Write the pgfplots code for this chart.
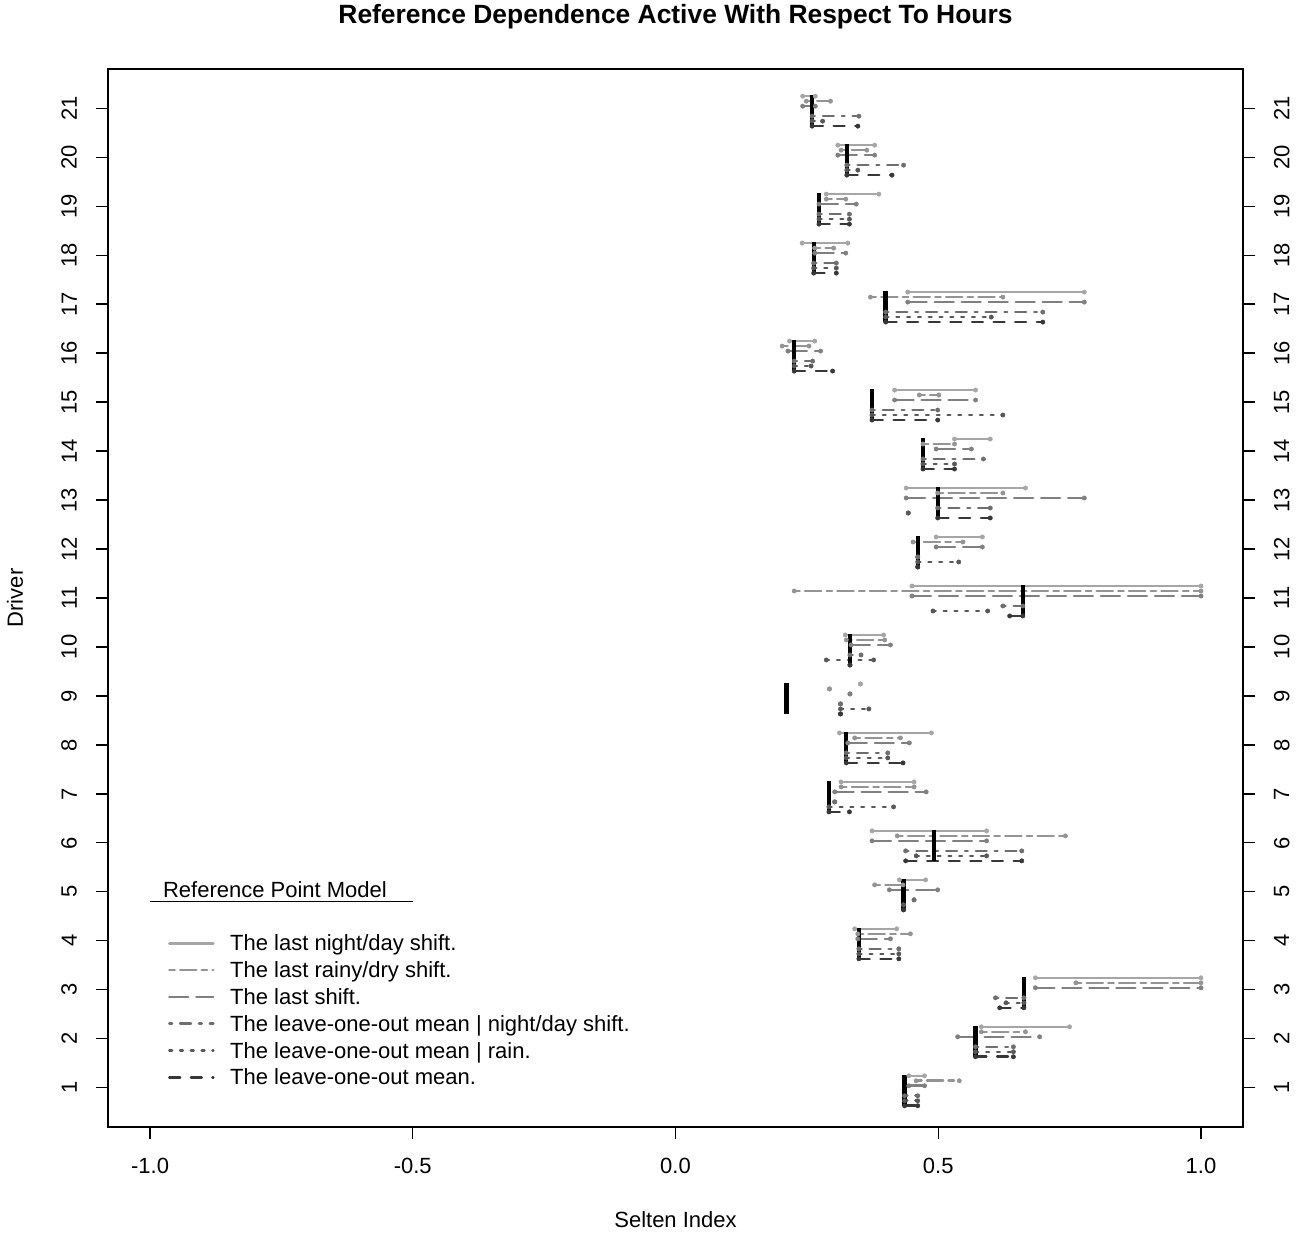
\documentclass[border=0pt]{standalone}
\usepackage{pgfplots}
\pgfplotsset{compat=1.18}
\usepackage{fontspec}
\setmainfont{Liberation Sans}
\definecolor{cA}{RGB}{166,166,166}
\definecolor{cB}{RGB}{148,148,148}
\definecolor{cC}{RGB}{128,128,128}
\definecolor{cD}{RGB}{110,110,110}
\definecolor{cE}{RGB}{88,88,88}
\definecolor{cF}{RGB}{55,55,55}
\pgfplotsset{
  seg/.style={color=#1, line width=1.3pt, line cap=round, mark=*, mark size=1.1pt,
    mark options={solid, fill=#1, draw=#1, line width=0.2pt}},
}
\begin{document}
\begin{tikzpicture}[font=\fontsize{11}{13}\selectfont]
\useasboundingbox (-54pt,-53.5pt) rectangle (599.5pt,563.5pt);
\begin{axis}[
  at={(0pt,0pt)}, anchor=south west,
  scale only axis, width=567.5pt, height=529pt,
  xmin=-1.08, xmax=1.08, ymin=0.2, ymax=21.8,
  xtick={-1,-0.5,0,0.5,1}, xticklabels={-1.0,-0.5,0.0,0.5,1.0},
  ytick={1,...,21},
  tick align=outside, xtick pos=left, ytick pos=both, yticklabel pos=left,
  major tick length=6pt,
  tick style={black, line width=0.6pt},
  axis line style={line width=0.6pt},
  /pgf/number format/assume math mode=true,
  ticklabel style={font=\fontsize{11}{13}\selectfont},
  xticklabel style={yshift=-6pt},
  yticklabel style={xshift=-6pt, rotate=90, anchor=south},
  unbounded coords=jump,
  title={\bfseries\fontsize{13.2}{15}\selectfont Reference Dependence Active With Respect To Hours},
  every axis title/.style={at={(axis description cs:0.5,1)}, anchor=center, yshift=26pt},
  xlabel={Selten Index},
  every axis x label/.style={at={(axis description cs:0.5,0)}, yshift=-46.5pt, anchor=center},
  ylabel={Driver},
  every axis y label/.style={at={(axis description cs:0,0.5)}, xshift=-46.5pt, rotate=90, anchor=center},
  legend image code/.code={\draw[#1, mark=none] (0pt,0pt) -- (22pt,0pt);},
  legend cell align=left,
  legend style={at={(axis description cs:0.0529,0.1837)}, anchor=north west,
    draw=none, fill=none, inner sep=0pt, outer sep=0pt, row sep=2.8pt, column sep=7.8pt,
    nodes={inner sep=0pt}, font=\fontsize{11}{13}\selectfont},
]
% The last night/day shift.
\addplot[seg=cA, solid] coordinates {
(0.242,21.245) (0.266,21.245) (nan,nan)
(0.309,20.245) (0.379,20.245) (nan,nan)
(0.287,19.245) (0.387,19.245) (nan,nan)
(0.241,18.245) (0.328,18.245) (nan,nan)
(0.442,17.245) (0.778,17.245) (nan,nan)
(0.217,16.245) (0.265,16.245) (nan,nan)
(0.417,15.245) (0.571,15.245) (nan,nan)
(0.531,14.245) (0.599,14.245) (nan,nan)
(0.439,13.245) (0.666,13.245) (nan,nan)
(0.496,12.245) (0.584,12.245) (nan,nan)
(0.450,11.245) (1.000,11.245) (nan,nan)
(0.323,10.245) (0.396,10.245) (nan,nan)
(0.352,9.245) (0.352,9.245) (nan,nan)
(0.312,8.245) (0.487,8.245) (nan,nan)
(0.315,7.245) (0.454,7.245) (nan,nan)
(0.374,6.245) (0.592,6.245) (nan,nan)
(0.426,5.245) (0.476,5.245) (nan,nan)
(0.341,4.245) (0.421,4.245) (nan,nan)
(0.685,3.245) (1.000,3.245) (nan,nan)
(0.582,2.245) (0.750,2.245) (nan,nan)
(0.444,1.245) (0.474,1.245)
};
\addlegendentry{\strut The last night/day shift.}
% The last rainy/dry shift.
\addplot[seg=cB, dash pattern=on 2.7pt off 2.7pt on 8.1pt off 2.7pt] coordinates {
(0.249,21.143) (0.295,21.143) (nan,nan)
(0.315,20.143) (0.364,20.143) (nan,nan)
(0.287,19.143) (0.324,19.143) (nan,nan)
(0.265,18.143) (0.301,18.143) (nan,nan)
(0.371,17.143) (0.623,17.143) (nan,nan)
(0.203,16.143) (0.254,16.143) (nan,nan)
(0.464,15.143) (0.501,15.143) (nan,nan)
(0.471,14.143) (0.531,14.143) (nan,nan)
(0.499,13.143) (0.623,13.143) (nan,nan)
(0.452,12.143) (0.547,12.143) (nan,nan)
(0.226,11.143) (1.000,11.143) (nan,nan)
(0.325,10.143) (0.398,10.143) (nan,nan)
(0.293,9.143) (0.293,9.143) (nan,nan)
(0.341,8.143) (0.428,8.143) (nan,nan)
(0.315,7.143) (0.454,7.143) (nan,nan)
(0.422,6.143) (0.742,6.143) (nan,nan)
(0.379,5.143) (0.433,5.143) (nan,nan)
(0.347,4.143) (0.447,4.143) (nan,nan)
(0.762,3.143) (1.000,3.143) (nan,nan)
(0.582,2.143) (0.666,2.143) (nan,nan)
(0.458,1.143) (0.540,1.143)
};
\addlegendentry{\strut The last rainy/dry shift.}
% The last shift.
\addplot[seg=cC, dash pattern=on 9.45pt off 4.05pt] coordinates {
(0.242,21.041) (0.266,21.041) (nan,nan)
(0.309,20.041) (0.379,20.041) (nan,nan)
(0.273,19.041) (0.344,19.041) (nan,nan)
(0.265,18.041) (0.324,18.041) (nan,nan)
(0.442,17.041) (0.778,17.041) (nan,nan)
(0.214,16.041) (0.276,16.041) (nan,nan)
(0.417,15.041) (0.571,15.041) (nan,nan)
(0.496,14.041) (0.563,14.041) (nan,nan)
(0.439,13.041) (0.778,13.041) (nan,nan)
(0.496,12.041) (0.584,12.041) (nan,nan)
(0.450,11.041) (1.000,11.041) (nan,nan)
(0.334,10.041) (0.409,10.041) (nan,nan)
(0.332,9.041) (0.332,9.041) (nan,nan)
(0.328,8.041) (0.445,8.041) (nan,nan)
(0.303,7.041) (0.477,7.041) (nan,nan)
(0.374,6.041) (0.592,6.041) (nan,nan)
(0.407,5.041) (0.499,5.041) (nan,nan)
(0.347,4.041) (0.409,4.041) (nan,nan)
(0.685,3.041) (1.000,3.041) (nan,nan)
(0.537,2.041) (0.693,2.041) (nan,nan)
(0.444,1.041) (0.474,1.041)
};
\addlegendentry{\strut The last shift.}
% The leave-one-out mean | night/day shift.
\addplot[seg=cD, dash pattern=on 1.35pt off 4.05pt on 5.4pt off 4.05pt] coordinates {
(0.260,20.837) (0.349,20.837) (nan,nan)
(0.326,19.837) (0.434,19.837) (nan,nan)
(0.273,18.837) (0.331,18.837) (nan,nan)
(0.263,17.837) (0.306,17.837) (nan,nan)
(0.400,16.837) (0.699,16.837) (nan,nan)
(0.226,15.837) (0.261,15.837) (nan,nan)
(0.374,14.837) (0.499,14.837) (nan,nan)
(0.471,13.837) (0.586,13.837) (nan,nan)
(0.499,12.837) (0.599,12.837) (nan,nan)
(0.461,11.837) (0.461,11.837) (nan,nan)
(0.623,10.837) (0.661,10.837) (nan,nan)
(0.332,9.837) (0.353,9.837) (nan,nan)
(0.314,8.837) (0.314,8.837) (nan,nan)
(0.325,7.837) (0.404,7.837) (nan,nan)
(0.303,6.837) (0.303,6.837) (nan,nan)
(0.438,5.837) (0.659,5.837) (nan,nan)
(0.454,4.837) (0.454,4.837) (nan,nan)
(0.349,3.837) (0.425,3.837) (nan,nan)
(0.609,2.837) (0.663,2.837) (nan,nan)
(0.571,1.837) (0.643,1.837) (nan,nan)
(0.436,0.837) (0.461,0.837)
};
\addlegendentry{\strut The leave-one-out mean | night/day shift.}
% The leave-one-out mean | rain.
\addplot[seg=cE, dash pattern=on 1.35pt off 4.05pt] coordinates {
(0.260,20.735) (0.280,20.735) (nan,nan)
(0.326,19.735) (0.347,19.735) (nan,nan)
(0.273,18.735) (0.331,18.735) (nan,nan)
(0.263,17.735) (0.306,17.735) (nan,nan)
(0.400,16.735) (0.601,16.735) (nan,nan)
(0.226,15.735) (0.258,15.735) (nan,nan)
(0.374,14.735) (0.623,14.735) (nan,nan)
(0.471,13.735) (0.531,13.735) (nan,nan)
(0.443,12.735) (0.443,12.735) (nan,nan)
(0.461,11.735) (0.539,11.735) (nan,nan)
(0.490,10.735) (0.594,10.735) (nan,nan)
(0.287,9.735) (0.377,9.735) (nan,nan)
(0.314,8.735) (0.368,8.735) (nan,nan)
(0.325,7.735) (0.404,7.735) (nan,nan)
(0.292,6.735) (0.415,6.735) (nan,nan)
(0.458,5.735) (0.592,5.735) (nan,nan)
(0.434,4.735) (0.434,4.735) (nan,nan)
(0.349,3.735) (0.425,3.735) (nan,nan)
(0.629,2.735) (0.663,2.735) (nan,nan)
(0.571,1.735) (0.643,1.735) (nan,nan)
(0.436,0.735) (0.461,0.735)
};
\addlegendentry{\strut The leave-one-out mean | rain.}
% The leave-one-out mean.
\addplot[seg=cF, dash pattern=on 5.4pt off 5.4pt] coordinates {
(0.260,20.633) (0.347,20.633) (nan,nan)
(0.326,19.633) (0.412,19.633) (nan,nan)
(0.273,18.633) (0.331,18.633) (nan,nan)
(0.263,17.633) (0.306,17.633) (nan,nan)
(0.400,16.633) (0.699,16.633) (nan,nan)
(0.226,15.633) (0.299,15.633) (nan,nan)
(0.374,14.633) (0.499,14.633) (nan,nan)
(0.471,13.633) (0.531,13.633) (nan,nan)
(0.499,12.633) (0.599,12.633) (nan,nan)
(0.461,11.633) (0.461,11.633) (nan,nan)
(0.636,10.633) (0.661,10.633) (nan,nan)
(0.332,9.633) (0.332,9.633) (nan,nan)
(0.314,8.633) (0.314,8.633) (nan,nan)
(0.325,7.633) (0.433,7.633) (nan,nan)
(0.292,6.633) (0.331,6.633) (nan,nan)
(0.438,5.633) (0.659,5.633) (nan,nan)
(0.434,4.633) (0.434,4.633) (nan,nan)
(0.349,3.633) (0.425,3.633) (nan,nan)
(0.617,2.633) (0.663,2.633) (nan,nan)
(0.571,1.633) (0.643,1.633) (nan,nan)
(0.436,0.633) (0.461,0.633)
};
\addlegendentry{\strut The leave-one-out mean.}
% reference bars
\addplot[forget plot, black, line width=2.2pt, line cap=butt] coordinates {
(0.260,21.265) (0.260,20.63) (nan,nan)
(0.326,20.265) (0.326,19.63) (nan,nan)
(0.273,19.265) (0.273,18.63) (nan,nan)
(0.263,18.265) (0.263,17.63) (nan,nan)
(0.400,17.265) (0.400,16.63) (nan,nan)
(0.226,16.265) (0.226,15.63) (nan,nan)
(0.374,15.265) (0.374,14.63) (nan,nan)
(0.471,14.265) (0.471,13.63) (nan,nan)
(0.499,13.265) (0.499,12.63) (nan,nan)
(0.461,12.265) (0.461,11.63) (nan,nan)
(0.661,11.265) (0.661,10.63) (nan,nan)
(0.332,10.265) (0.332,9.63) (nan,nan)
(0.211,9.265) (0.211,8.63) (nan,nan)
(0.325,8.265) (0.325,7.63) (nan,nan)
(0.292,7.265) (0.292,6.63) (nan,nan)
(0.492,6.265) (0.492,5.63) (nan,nan)
(0.434,5.265) (0.434,4.63) (nan,nan)
(0.349,4.265) (0.349,3.63) (nan,nan)
(0.663,3.265) (0.663,2.63) (nan,nan)
(0.571,2.265) (0.571,1.63) (nan,nan)
(0.436,1.265) (0.436,0.63)
};
\node[anchor=west, inner sep=0pt] at (axis cs:-0.976,5.04) {Reference Point Model};
\draw[line width=0.6pt] (axis cs:-1,4.8) -- (axis cs:-0.5,4.8);
\end{axis}
\begin{axis}[
  at={(0pt,0pt)}, anchor=south west,
  scale only axis, width=567.5pt, height=529pt,
  xmin=-1.08, xmax=1.08, ymin=0.2, ymax=21.8,
  hide x axis, axis y line*=right,
  ytick={1,...,21},
  tick align=outside, major tick length=6pt,
  tick style={black, line width=0.6pt},
  axis line style={line width=0.6pt},
  /pgf/number format/assume math mode=true,
  ticklabel style={font=\fontsize{11}{13}\selectfont},
  yticklabel style={xshift=6pt, rotate=90, anchor=north},
]
\end{axis}
\end{tikzpicture}
\end{document}
